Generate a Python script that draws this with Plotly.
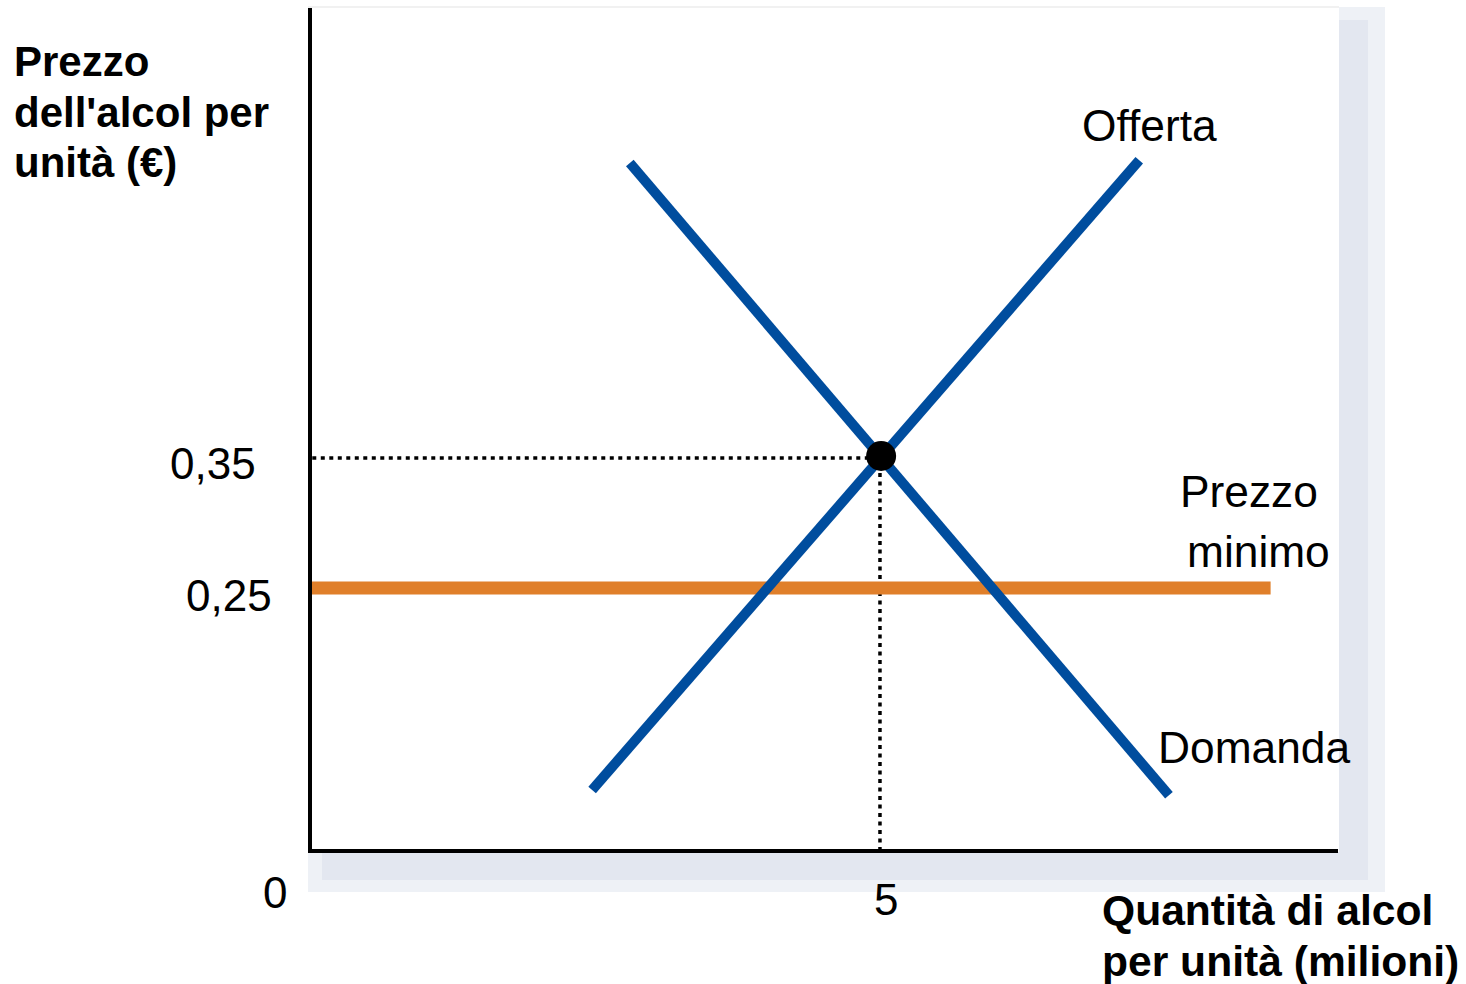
import plotly.graph_objects as go

# ---- data ----
supply_q = [2.47, 7.26]
supply_p = [0.097, 0.574]
demand_q = [2.80, 7.52]
demand_p = [0.572, 0.093]
floor_q = [0.0, 8.41]
floor_p = [0.25, 0.25]
eq_q = 5
eq_p = 0.35
y_tickvals = [0.35, 0.25]
y_ticktext = ["0,35", "0,25"]
x_tickvals = [5]
x_ticktext = ["5"]

BLUE = "#004d9e"
ORANGE = "#e07f2a"
FONT = "Liberation Sans, Arial, sans-serif"

W, H = 1466, 984
L, R, T, B = 310, 1338, 8, 851  # plot area in pixels
PW, PH = R - L, B - T

def pxx(x):
    return (x - L) / PW

def pxy(y):
    return (B - y) / PH

fig = go.Figure()

# dotted guide lines
fig.add_trace(go.Scatter(x=[0.02, eq_q - 0.1], y=[eq_p - 0.0015, eq_p - 0.0015], mode="lines",
                         line=dict(color="black", width=3.5, dash="4px,4.5px"),
                         hoverinfo="skip", showlegend=False))
fig.add_trace(go.Scatter(x=[eq_q - 0.01, eq_q - 0.01], y=[eq_p, 0.05], mode="lines",
                         line=dict(color="black", width=3.5, dash="4px,4.5px"),
                         hoverinfo="skip", showlegend=False))
# price floor
fig.add_trace(go.Scatter(x=floor_q, y=floor_p, mode="lines",
                         line=dict(color=ORANGE, width=13), showlegend=False))
# supply / demand
fig.add_trace(go.Scatter(x=supply_q, y=supply_p, mode="lines",
                         line=dict(color=BLUE, width=10), showlegend=False))
fig.add_trace(go.Scatter(x=demand_q, y=demand_p, mode="lines",
                         line=dict(color=BLUE, width=10), showlegend=False))
# equilibrium
fig.add_trace(go.Scatter(x=[eq_q], y=[eq_p], mode="markers",
                         marker=dict(color="black", size=30), showlegend=False))

y0 = eq_p - (B - 456) / 1320
y1 = eq_p + (456 - T) / 1320

shapes = [
    # shadow right strip
    dict(type="rect", xref="paper", yref="paper", x0=pxx(R + 1), x1=pxx(1385),
         y0=pxy(892), y1=pxy(7), fillcolor="#eef1f6", line=dict(width=0), layer="below"),
    dict(type="rect", xref="paper", yref="paper", x0=pxx(R + 1), x1=pxx(1368),
         y0=pxy(880), y1=pxy(20), fillcolor="#e3e7f0", line=dict(width=0), layer="below"),
    # shadow bottom strip
    dict(type="rect", xref="paper", yref="paper", x0=pxx(308), x1=pxx(1385),
         y0=pxy(892), y1=pxy(B + 1), fillcolor="#eef1f6", line=dict(width=0), layer="below"),
    dict(type="rect", xref="paper", yref="paper", x0=pxx(322), x1=pxx(1368),
         y0=pxy(880), y1=pxy(B + 1), fillcolor="#e3e7f0", line=dict(width=0), layer="below"),
    # faint top border
    dict(type="line", xref="paper", yref="paper", x0=pxx(308), x1=pxx(R + 1),
         y0=pxy(7), y1=pxy(7), line=dict(color="#ececec", width=1.5)),
    # axis lines
    dict(type="line", xref="paper", yref="paper", x0=0, x1=0,
         y0=pxy(B + 2), y1=pxy(8), line=dict(color="black", width=4)),
    dict(type="line", xref="paper", yref="paper", x0=pxx(308), x1=pxx(R),
         y0=0, y1=0, line=dict(color="black", width=4)),
]

def ann(text, x, y, xanchor="left", size=44, bold=False):
    return dict(text=("<b>%s</b>" % text) if bold else text,
                x=pxx(x), y=pxy(y), xref="paper", yref="paper",
                xanchor=xanchor, yanchor="middle", showarrow=False,
                font=dict(family=FONT, size=size, color="black"))

annotations = [
    ann("Prezzo", 12, 61, bold=True, size=42),
    ann("dell'alcol per", 12, 112, bold=True, size=42),
    ann("unità (€)", 12, 163, bold=True, size=42),
    ann("Quantità di alcol", 1100, 910, bold=True, size=42.6),
    ann("per unità (milioni)", 1100, 961, bold=True, size=42.6),
    ann("Offerta", 1080, 125, size=44.3),
    ann("Domanda", 1156, 747, size=44.3),
    ann("Prezzo", 1178, 492, size=44.3),
    ann("minimo", 1185, 551, size=44.3),
    ann("0", 275, 892, xanchor="center"),
]

# tick labels placed as annotations at their data values
y_label_right = [258, 274]
for val, txt, rx in zip(y_tickvals, y_ticktext, y_label_right):
    annotations.append(dict(text=txt, x=pxx(rx), y=val, xref="paper", yref="y",
                            xanchor="right", yanchor="middle", yshift=-7, showarrow=False,
                            font=dict(family=FONT, size=44, color="black")))
for val, txt in zip(x_tickvals, x_ticktext):
    annotations.append(dict(text=txt, x=val, y=pxy(900), xref="x", yref="paper",
                            xanchor="center", yanchor="middle", xshift=5, showarrow=False,
                            font=dict(family=FONT, size=44, color="black")))

fig.update_layout(
    width=W, height=H,
    margin=dict(l=L, r=W - R, t=T, b=H - B, pad=0),
    paper_bgcolor="white", plot_bgcolor="white",
    xaxis=dict(range=[0, 9], showgrid=False, zeroline=False, showline=False,
               showticklabels=False, ticks=""),
    yaxis=dict(range=[y0, y1], showgrid=False, zeroline=False, showline=False,
               showticklabels=False, ticks=""),
    shapes=shapes, annotations=annotations, showlegend=False,
)

fig.write_html("out.html")
